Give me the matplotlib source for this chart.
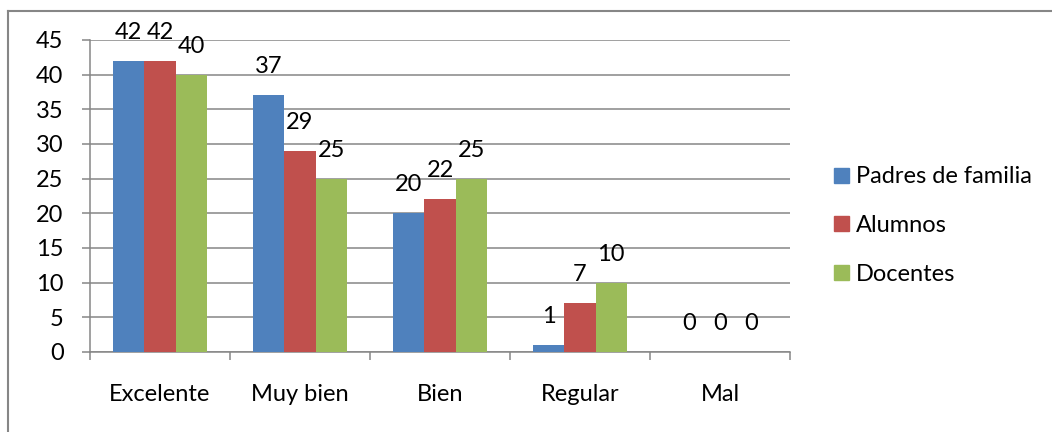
import numpy as np
import matplotlib.pyplot as plt
from matplotlib.lines import Line2D
from matplotlib.patches import Patch

categorias = ["Excelente", "Muy bien", "Bien", "Regular", "Mal"]
padres = [42, 37, 20, 1, 0]
alumnos = [42, 29, 22, 7, 0]
docentes = [40, 25, 25, 10, 0]
series = ["Padres de familia", "Alumnos", "Docentes"]
colores = ["#4F81BD", "#C0504D", "#9BBB59"]
gris = "#868686"

plt.rcParams['font.family'] = ['Lato', 'DejaVu Sans']
plt.rcParams['font.size'] = 17

W, H = 1052, 432
fig = plt.figure(figsize=(W / 100, H / 100), dpi=100)
ax = fig.add_axes([90 / W, 1 - 352 / H, 700 / W, 312 / H])

x = np.arange(len(categorias))
w = 0.223
for i, (vals, nombre, c) in enumerate(zip([padres, alumnos, docentes], series, colores)):
    pos = x + (i - 1) * w
    ax.bar(pos, vals, w, color=c, label=nombre, zorder=3)
    for px, v in zip(pos, vals):
        ax.annotate(str(v), (px, v), xytext=(0, 13), textcoords="offset points",
                    ha="center", va="bottom")

ax.set_xlim(-0.5, len(categorias) - 0.5)
ax.set_ylim(0, 45)
ax.set_yticks(np.arange(0, 46, 5))
ax.yaxis.grid(True, color=gris, linewidth=1.1, zorder=0)
ax.set_xticks(x)
ax.set_xticklabels(categorias)
ax.set_xticks(np.arange(-0.5, len(categorias), 1), minor=True)
ax.tick_params(axis="x", which="major", length=0, pad=23)
ax.tick_params(axis="x", which="minor", length=6, color=gris, width=1.1)
ax.tick_params(axis="y", length=6, color=gris, width=1.1, pad=13)
for s in ["top", "right"]:
    ax.spines[s].set_visible(False)
for s in ["left", "bottom"]:
    ax.spines[s].set_color(gris)
    ax.spines[s].set_linewidth(1.1)

handles = [Patch(color=c) for c in colores]
fig.legend(handles, series, loc="upper left", bbox_to_anchor=(825 / W, 1 - 157 / H),
           frameon=False, handlelength=0.6, handleheight=0.6, handletextpad=0.3,
           labelspacing=1.17, borderaxespad=0)

# marco del gráfico
fig.add_artist(Line2D([8 / W, 8 / W], [1 - 11 / H, 0], transform=fig.transFigure,
                      color=gris, linewidth=1.5))
fig.add_artist(Line2D([8 / W, 1], [1 - 11 / H, 1 - 11 / H], transform=fig.transFigure,
                      color=gris, linewidth=1.5))

fig.savefig("out.png", dpi=100)
